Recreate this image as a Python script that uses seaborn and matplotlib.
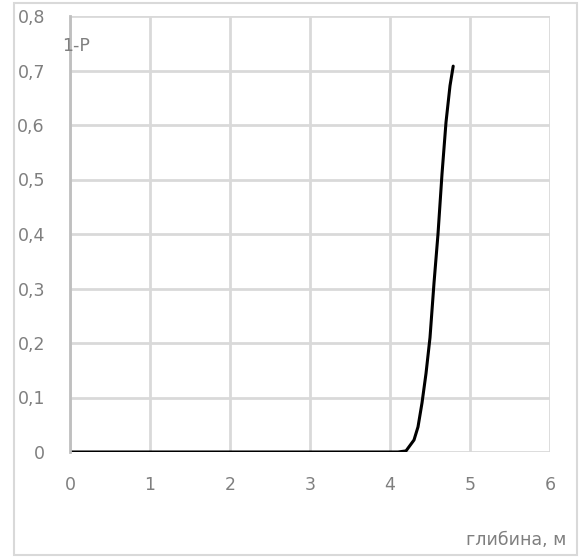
import numpy as np
import pandas as pd
import matplotlib
matplotlib.use('Agg')
import matplotlib.pyplot as plt
import seaborn as sns
from matplotlib.patches import Rectangle
from matplotlib.ticker import FuncFormatter

# depth (m) and 1-P values
depth = [0, 1, 2, 3, 4, 4.1, 4.2, 4.3, 4.35, 4.4, 4.45, 4.5, 4.55, 4.6, 4.65, 4.7, 4.75, 4.79]
prob = [0, 0, 0, 0, 0, 0, 0.002, 0.022, 0.046, 0.09, 0.144, 0.21, 0.31, 0.40, 0.51, 0.605, 0.672, 0.708]

x_ticks = [0, 1, 2, 3, 4, 5, 6]
y_ticks = [0, 0.1, 0.2, 0.3, 0.4, 0.5, 0.6, 0.7, 0.8]

sns.set_style('white')
plt.rcParams['font.family'] = ['DejaVu Sans']

df = pd.DataFrame({'depth': depth, 'prob': prob})

fig = plt.figure(figsize=(5.81, 5.57), dpi=100)
ax = fig.add_axes([70 / 581, 1 - 452 / 557, 480 / 581, 436 / 557])

sns.lineplot(data=df, x='depth', y='prob', color='black', linewidth=2.2, ax=ax)

ax.set_xlim(0, 6)
ax.set_ylim(0, 0.8)
ax.set_xticks(x_ticks)
ax.set_yticks(y_ticks)

def comma_fmt(v, pos):
    if v == 0:
        return '0'
    return f'{v:.1f}'.replace('.', ',')

ax.yaxis.set_major_formatter(FuncFormatter(comma_fmt))
ax.xaxis.set_major_formatter(FuncFormatter(lambda v, p: f'{int(v)}'))

ax.grid(True, color='#d9d9d9', linewidth=2)
ax.set_axisbelow(True)
for s in ['top', 'right', 'bottom']:
    ax.spines[s].set_visible(False)
ax.spines['left'].set_color('#bfbfbf')
ax.spines['left'].set_linewidth(2)
ax.tick_params(axis='both', length=0, labelsize=12.5, labelcolor='#7f7f7f')
ax.tick_params(axis='x', pad=17)
ax.tick_params(axis='y', pad=18)
ax.set_xlabel('')
ax.set_ylabel('')

fig.text(62 / 581, 1 - 46 / 557, '1-P', fontsize=12.5, color='#7f7f7f', va='center', ha='left')
fig.text(566 / 581, 1 - 540 / 557, 'глибина, м', fontsize=12.5, color='#7f7f7f', va='center', ha='right')

# outer chart border
fig.patches.append(Rectangle((14 / 581, 2 / 557), 563 / 581, 552 / 557,
                             transform=fig.transFigure, fill=False,
                             edgecolor='#d9d9d9', linewidth=1.5))

fig.savefig('out.png', dpi=100)
